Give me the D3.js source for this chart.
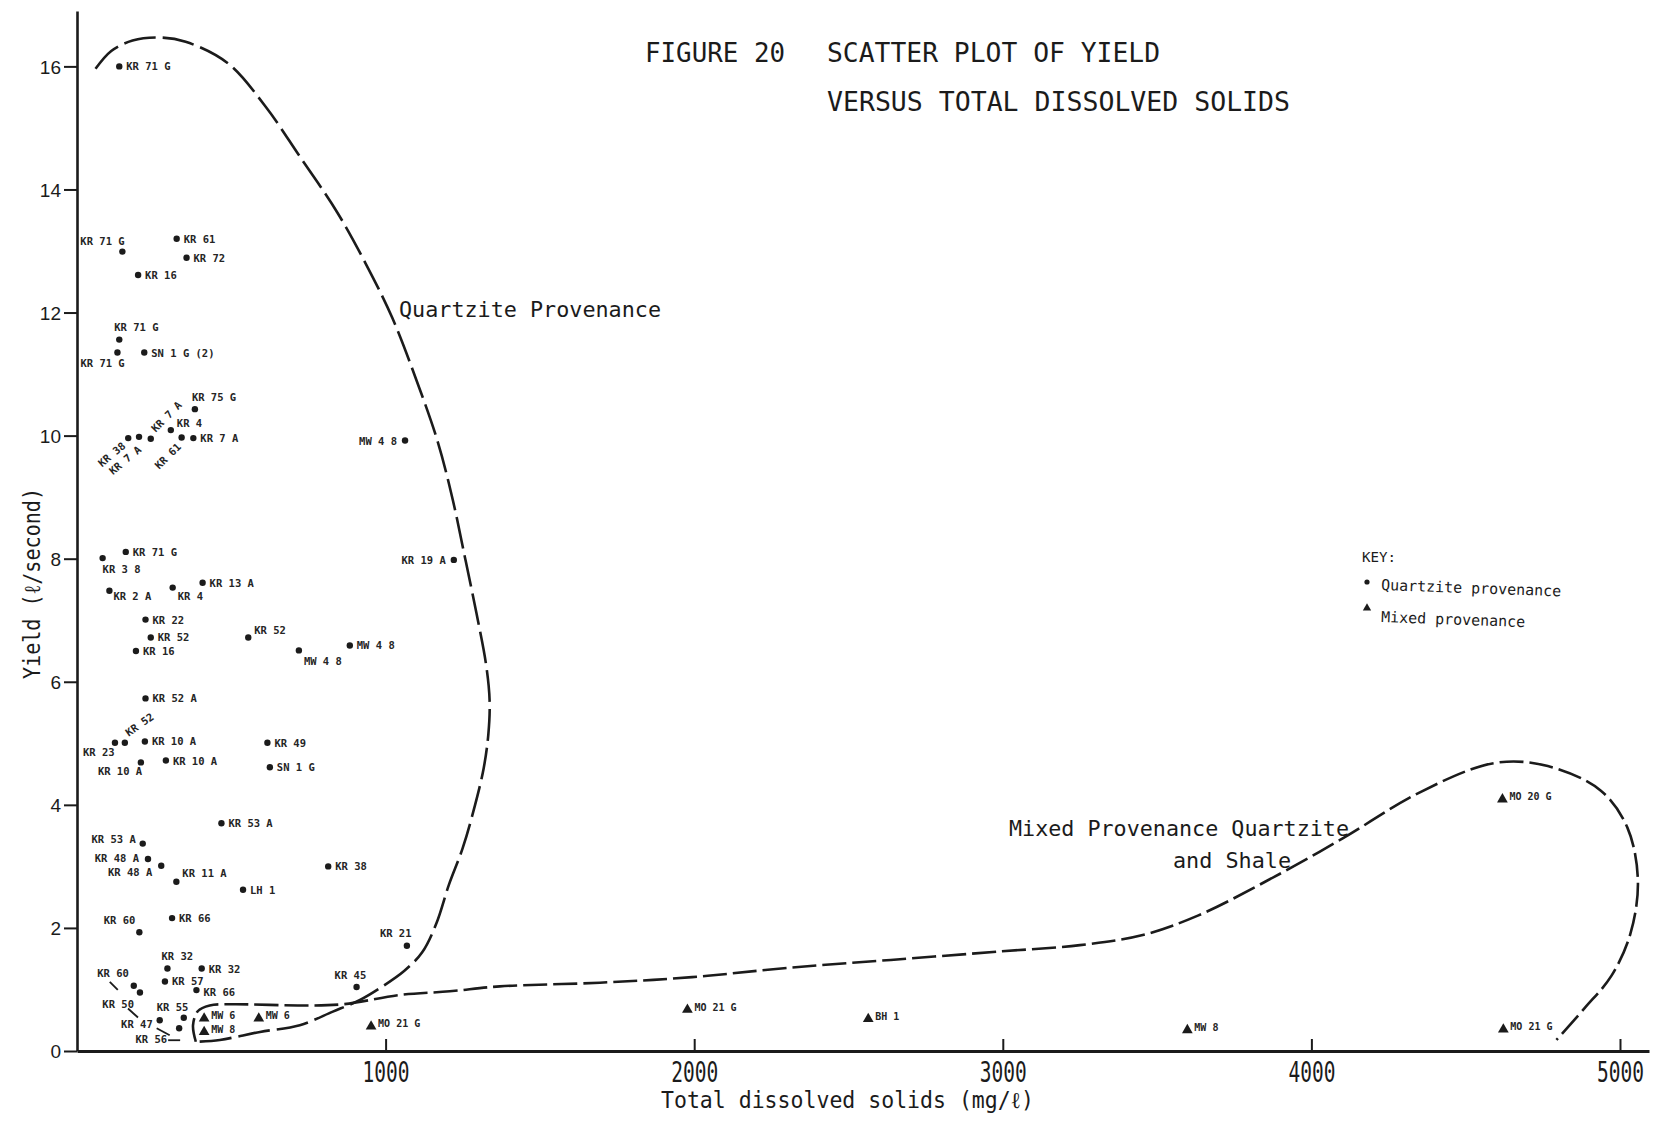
<!DOCTYPE html>
<html>
<head>
<meta charset="utf-8">
<script src="https://cdn.jsdelivr.net/npm/d3@7"></script>
<style>
  html, body { margin: 0; padding: 0; background: #ffffff; }
  svg { display: block; }
</style>
</head>
<body>
<svg id="chart" width="1663" height="1123"></svg>
<script>
// ---- Quartzite provenance samples: site, total dissolved solids (mg/l), yield (l/s)
const quartziteSites = [
  "KR 71 G", "KR 71 G", "KR 61", "KR 72", "KR 16", "KR 71 G", "KR 71 G", "SN 1 G (2)",
  "KR 75 G", "KR 38", "KR 7 A", "KR 7 A", "KR 4", "KR 61", "KR 7 A", "MW 4 8",
  "KR 19 A", "KR 71 G", "KR 3 8", "KR 2 A", "KR 4", "KR 13 A", "KR 22", "KR 52",
  "KR 16", "KR 52", "MW 4 8", "MW 4 8", "KR 52 A", "KR 23", "KR 52", "KR 10 A",
  "KR 10 A", "KR 10 A", "KR 49", "SN 1 G", "KR 53 A", "KR 53 A", "KR 48 A", "KR 48 A",
  "KR 11 A", "LH 1", "KR 38", "KR 66", "KR 60", "KR 32", "KR 32", "KR 57",
  "KR 66", "KR 60", "KR 50", "KR 47", "KR 55", "KR 56", "KR 45", "KR 21"
];
const quartziteTDS = [
  137, 147, 323, 355, 198, 137, 131, 218,
  382, 166, 201, 239, 304, 339, 377, 1063,
  1221, 158, 83, 105, 310, 407, 222, 239,
  191, 555, 719, 884, 222, 123, 155, 220,
  207, 288, 617, 625, 468, 213, 230, 273,
  322, 538, 814, 308, 202, 293, 404, 285,
  387, 184, 204, 268, 346, 331, 906, 1069
];
const quartziteYield = [
  16.0, 12.99, 13.2, 12.89, 12.61, 11.56, 11.35, 11.35,
  10.43, 9.96, 9.98, 9.95, 10.09, 9.97, 9.96, 9.92,
  7.98, 8.11, 8.01, 7.48, 7.53, 7.61, 7.01, 6.72,
  6.50, 6.72, 6.51, 6.59, 5.73, 5.01, 5.01, 5.03,
  4.69, 4.72, 5.01, 4.61, 3.70, 3.37, 3.12, 3.01,
  2.75, 2.62, 3.00, 2.16, 1.93, 1.34, 1.34, 1.13,
  0.99, 1.06, 0.95, 0.50, 0.54, 0.37, 1.04, 1.71
];

// ---- Mixed provenance samples
const mixedSites = ["MW 6", "MW 6", "MW 8", "MO 21 G", "MO 21 G", "BH 1", "MW 8", "MO 21 G", "MO 20 G"];
const mixedTDS   = [412, 589, 412, 953, 1978, 2564, 3598, 4622, 4619];
const mixedYield = [0.53, 0.53, 0.31, 0.40, 0.67, 0.52, 0.34, 0.35, 4.09];

// ---- Hand-drawn provenance envelopes (TDS, yield)
const quartziteEnvelopeTDS = [
  60, 111, 180, 266, 352, 489, 609, 720, 843, 935, 1022, 1100, 1169, 1218, 1258,
  1295, 1325, 1337, 1333, 1318, 1290, 1250, 1205, 1165, 1118, 1060, 990, 917, 829,
  722, 593, 463, 388
];
const quartziteEnvelopeYield = [
  15.96, 16.25, 16.42, 16.47, 16.4, 16.05, 15.36, 14.55, 13.63, 12.8, 11.91, 10.9, 9.9, 8.95, 8.0,
  7.1, 6.3, 5.7, 5.15, 4.6, 4.0, 3.3, 2.7, 2.08, 1.6, 1.3, 1.05, 0.83, 0.64,
  0.42, 0.31, 0.18, 0.15
];
const mixedEnvelopeTDS = [
  385, 376, 392, 430, 500, 722, 862, 1046, 1208, 1370, 1694, 1993, 2300, 2637, 2997,
  3250, 3450, 3632, 3850, 4100, 4350, 4594, 4766, 4938, 5024, 5058, 5034, 4972, 4886, 4794
];
const mixedEnvelopeYield = [
  0.15, 0.42, 0.65, 0.74, 0.76, 0.74, 0.76, 0.91, 0.97, 1.05, 1.11, 1.2, 1.35, 1.48, 1.62,
  1.72, 1.88, 2.2, 2.75, 3.45, 4.2, 4.68, 4.63, 4.23, 3.63, 2.77, 1.91, 1.22, 0.70, 0.18
];

// ---- Axis ticks
const xTickValues = [1000, 2000, 3000, 4000, 5000];
const yTickValues = [0, 2, 4, 6, 8, 10, 12, 14, 16];

// ---- Label placement for each quartzite point: [dx, dy, anchor, rotation]; null = right of point
const quartziteLabelPlace = [
  null, [-42, -7, "start"], null, null, null, [-5, -9, "start"], [-37, 14, "start"], null,
  [-3, -8, "start"], [-2, 9, "end", -40], [3, 14, "end", -40], [5, -6, "start", -45], [6, -3, "start"], [0, 10, "end", -45], null, [-8, 4, "end"],
  [-8, 4, "end"], null, [0, 15, "start"], [4, 9, "start"], [5, 12, "start"], null, null, null,
  null, [6, -3, "start"], [5, 15, "start"], null, null, [-32, 13, "start"], [4, -6, "start", -35], null,
  [-43, 13, "start"], null, null, null, null, [-7, -1, "end"], [-9, 3, "end"], [-9, 10, "end"],
  [6, -5, "start"], null, null, null, [-4, -8, "end"], [-6, -9, "start"], null, null,
  [7, 6, "start"], [-5, -9, "end"], [-6, 15, "end"], [-7, 8, "end"], [-27, -7, "start"], [-12, 15, "end"], [-22, -8, "start"], [-27, -9, "start"]
];
// Short leader strokes beside some crowded labels: [pointIndex, dx1, dy1, dx2, dy2]
const quartziteLeaders = [
  [49, -24, -4, -16, 4],
  [50, -12, 16, -2, 25],
  [51, -3, 8, 10, 15],
  [53, -11, 12, 1, 12]
];

const ink = "#1b1b1b";
const svg = d3.select("#chart");

const x = d3.scaleLinear().domain([0, 5094]).range([77, 1649]);
const y = d3.scaleLinear().domain([0, 16.9]).range([1051, 11]);

// ---- Axes
const xAxis = svg.append("g")
  .attr("transform", `translate(0,${y(0)})`)
  .call(d3.axisBottom(x).tickValues(xTickValues).tickSizeInner(-12).tickSizeOuter(0).tickFormat(d3.format("d")));
xAxis.select(".domain").attr("stroke", ink).attr("stroke-width", 3);
xAxis.selectAll(".tick line").attr("stroke", ink).attr("stroke-width", 2);
xAxis.selectAll(".tick text")
  .attr("y", 31).attr("dy", 0)
  .attr("fill", ink)
  .attr("font-family", "DejaVu Sans Mono")
  .attr("font-size", 28)
  .attr("textLength", 47)
  .attr("lengthAdjust", "spacingAndGlyphs");

const yAxis = svg.append("g")
  .attr("transform", `translate(${x(0)},0)`)
  .call(d3.axisLeft(y).tickValues(yTickValues).tickSizeInner(13).tickSizeOuter(0).tickPadding(3).tickFormat(d3.format("d")));
yAxis.select(".domain").attr("stroke", ink).attr("stroke-width", 2.6);
yAxis.selectAll(".tick line").attr("stroke", ink).attr("stroke-width", 2);
yAxis.selectAll(".tick text")
  .attr("fill", ink)
  .attr("font-family", "Liberation Sans, Arial, sans-serif")
  .attr("font-size", 19)
  .attr("dy", "0.36em");

// Axis titles
svg.append("text")
  .attr("x", 661).attr("y", 1108)
  .attr("font-family", "DejaVu Sans Mono").attr("font-size", 23)
  .attr("textLength", 373).attr("lengthAdjust", "spacingAndGlyphs")
  .attr("fill", ink)
  .text("Total dissolved solids (mg/ℓ)");

svg.append("text")
  .attr("transform", "translate(40,679) rotate(-90)")
  .attr("font-family", "DejaVu Sans Mono").attr("font-size", 23)
  .attr("textLength", 191).attr("lengthAdjust", "spacingAndGlyphs")
  .attr("fill", ink)
  .text("Yield (ℓ/second)");

// ---- Title
[["FIGURE 20", 645, 62, 140], ["SCATTER PLOT OF YIELD", 827, 62, 333], ["VERSUS TOTAL DISSOLVED SOLIDS", 827, 111, 463]]
  .forEach(([t, tx, ty, w]) => {
    svg.append("text")
      .attr("x", tx).attr("y", ty)
      .attr("font-family", "DejaVu Sans Mono").attr("font-size", 27)
      .attr("textLength", w).attr("lengthAdjust", "spacingAndGlyphs")
      .attr("fill", ink).text(t);
  });

// ---- Envelopes
const envelope = d3.line()
  .x(d => x(d[0])).y(d => y(d[1]))
  .curve(d3.curveCatmullRom.alpha(0.5));

svg.append("path")
  .datum(d3.zip(quartziteEnvelopeTDS, quartziteEnvelopeYield))
  .attr("d", envelope)
  .attr("fill", "none").attr("stroke", ink).attr("stroke-width", 2.6)
  .attr("stroke-dasharray", "32,7");

svg.append("path")
  .datum(d3.zip(mixedEnvelopeTDS, mixedEnvelopeYield))
  .attr("d", envelope)
  .attr("fill", "none").attr("stroke", ink).attr("stroke-width", 2.6)
  .attr("stroke-dasharray", "24,6");

// Envelope captions
[["Quartzite Provenance", 399, 317, 262], ["Mixed Provenance Quartzite", 1009, 836, 340], ["and Shale", 1173, 868, 118]]
  .forEach(([t, tx, ty, w]) => {
    svg.append("text")
      .attr("x", tx).attr("y", ty)
      .attr("font-family", "DejaVu Sans Mono").attr("font-size", 22)
      .attr("textLength", w).attr("lengthAdjust", "spacingAndGlyphs")
      .attr("fill", ink).text(t);
  });

// ---- Quartzite points
const qData = quartziteSites.map((s, i) => ({ site: s, tds: quartziteTDS[i], yld: quartziteYield[i], place: quartziteLabelPlace[i] || [7, 4, "start", 0] }));

svg.append("g").selectAll("circle")
  .data(qData).join("circle")
  .attr("cx", d => x(d.tds)).attr("cy", d => y(d.yld))
  .attr("r", 3.2).attr("fill", ink);

svg.append("g").selectAll("text")
  .data(qData).join("text")
  .attr("transform", d => `translate(${x(d.tds) + d.place[0]},${y(d.yld) + d.place[1]}) rotate(${d.place[3] || 0})`)
  .attr("text-anchor", d => d.place[2])
  .attr("font-family", "DejaVu Sans Mono").attr("font-weight", "bold")
  .attr("font-size", 10.5).attr("fill", "#252525")
  .text(d => d.site);

svg.append("g").selectAll("line")
  .data(quartziteLeaders).join("line")
  .attr("x1", d => x(quartziteTDS[d[0]]) + d[1]).attr("y1", d => y(quartziteYield[d[0]]) + d[2])
  .attr("x2", d => x(quartziteTDS[d[0]]) + d[3]).attr("y2", d => y(quartziteYield[d[0]]) + d[4])
  .attr("stroke", ink).attr("stroke-width", 1.8);

// ---- Mixed provenance points
const mData = mixedSites.map((s, i) => ({ site: s, tds: mixedTDS[i], yld: mixedYield[i] }));
const tri = d3.symbol().type(d3.symbolTriangle).size(50);

svg.append("g").selectAll("path")
  .data(mData).join("path")
  .attr("d", tri)
  .attr("transform", d => `translate(${x(d.tds)},${y(d.yld)})`)
  .attr("fill", ink);

svg.append("g").selectAll("text")
  .data(mData).join("text")
  .attr("x", d => x(d.tds) + 7).attr("y", d => y(d.yld) + 1)
  .attr("font-family", "DejaVu Sans Mono").attr("font-weight", "bold")
  .attr("font-size", 10).attr("fill", "#252525")
  .text(d => d.site);

// ---- Key
const key = svg.append("g");
key.append("text")
  .attr("x", 1362).attr("y", 562)
  .attr("font-family", "DejaVu Sans Mono").attr("font-size", 14)
  .attr("textLength", 34).attr("lengthAdjust", "spacingAndGlyphs")
  .attr("fill", ink).text("KEY:");
key.append("circle").attr("cx", 1367).attr("cy", 582).attr("r", 2.6).attr("fill", ink);
key.append("text")
  .attr("transform", "translate(1381,590) rotate(2)")
  .attr("font-family", "DejaVu Sans Mono").attr("font-size", 15)
  .attr("textLength", 180).attr("lengthAdjust", "spacingAndGlyphs")
  .attr("fill", ink).text("Quartzite provenance");
key.append("path")
  .attr("d", d3.symbol().type(d3.symbolTriangle).size(30))
  .attr("transform", "translate(1367,608)")
  .attr("fill", ink);
key.append("text")
  .attr("transform", "translate(1381,622) rotate(2)")
  .attr("font-family", "DejaVu Sans Mono").attr("font-size", 15)
  .attr("textLength", 144).attr("lengthAdjust", "spacingAndGlyphs")
  .attr("fill", ink).text("Mixed provenance");
</script>
</body>
</html>
